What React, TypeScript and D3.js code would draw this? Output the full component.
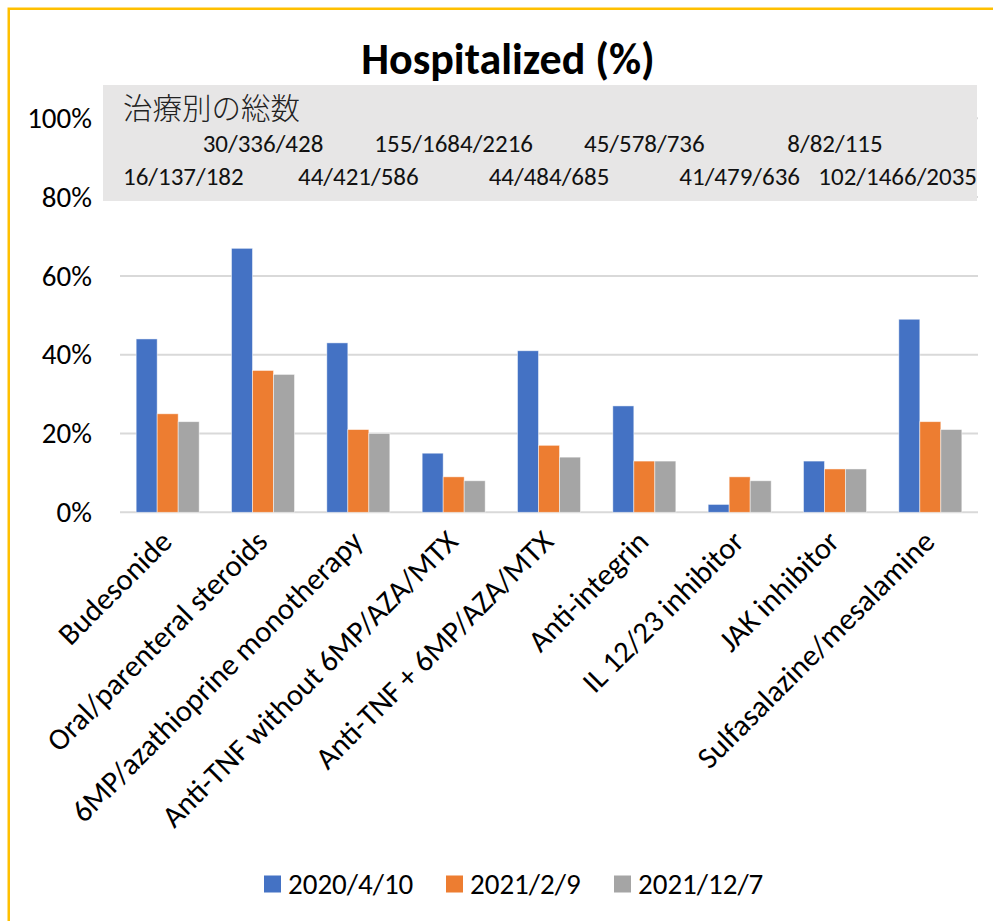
import React, { useEffect, useRef } from "react";
import * as d3 from "d3";

const categories = [
  "Budesonide",
  "Oral/parenteral steroids",
  "6MP/azathioprine monotherapy",
  "Anti-TNF without 6MP/AZA/MTX",
  "Anti-TNF + 6MP/AZA/MTX",
  "Anti-integrin",
  "IL 12/23 inhibitor",
  "JAK inhibitor",
  "Sulfasalazine/mesalamine",
];
const seriesNames = ["2020/4/10", "2021/2/9", "2021/12/7"];
const apr2020 = [44, 67, 43, 15, 41, 27, 2, 13, 49];
const feb2021 = [25, 36, 21, 9, 17, 13, 9, 11, 23];
const dec2021 = [23, 35, 20, 8, 14, 13, 8, 11, 21];
const totals = [
  "16/137/182",
  "30/336/428",
  "44/421/586",
  "155/1684/2216",
  "44/484/685",
  "45/578/736",
  "41/479/636",
  "8/82/115",
  "102/1466/2035",
];
const totalsTitle = "治療別の総数";
const yTicks = [0, 20, 40, 60, 80, 100];
const colors = ["#4472C4", "#ED7D31", "#A5A5A5"];

const FONT = "Carlito, Calibri, Lato, sans-serif";

export default function App() {
  const ref = useRef<SVGSVGElement>(null);

  useEffect(() => {
    const svg = d3.select(ref.current);
    svg.selectAll("*").remove();

    const left = 120, right = 978, top = 118.3, bottom = 512.3;
    const series = [apr2020, feb2021, dec2021];

    // outer frame (only top and left edges are visible)
    svg.append("rect")
      .attr("x", 8.75).attr("y", 8.75)
      .attr("width", 1200).attr("height", 1200)
      .attr("fill", "#fff")
      .attr("stroke", "#FFC000")
      .attr("stroke-width", 2.5);

    svg.append("text")
      .attr("x", 508).attr("y", 74)
      .attr("text-anchor", "middle")
      .attr("font-family", FONT)
      .attr("font-weight", "bold")
      .attr("font-size", 44)
      .text("Hospitalized (%)");

    const x = d3.scaleBand<string>()
      .domain(categories)
      .range([left, right])
      .paddingInner(0.339)
      .paddingOuter(0.1695);

    const xs = d3.scaleBand<number>()
      .domain(d3.range(series.length))
      .range([0, x.bandwidth()]);

    const y = d3.scaleLinear().domain([0, 100]).range([bottom, top]);

    // gridlines
    svg.append("g")
      .selectAll("line")
      .data(yTicks)
      .join("line")
      .attr("x1", left).attr("x2", right)
      .attr("y1", (d) => y(d)).attr("y2", (d) => y(d))
      .attr("stroke", "#D9D9D9")
      .attr("stroke-width", 2);

    // y axis labels
    const yAxis = d3.axisLeft(y)
      .tickValues(yTicks)
      .tickSize(0)
      .tickPadding(28)
      .tickFormat((d) => d + "%");
    const ya = svg.append("g")
      .attr("transform", "translate(" + left + ",0)")
      .call(yAxis);
    ya.select(".domain").remove();
    ya.selectAll("text")
      .attr("font-family", FONT)
      .attr("font-size", 29)
      .attr("fill", "#000");

    // bars
    const groups = svg.append("g")
      .selectAll("g")
      .data(categories)
      .join("g")
      .attr("transform", (c) => "translate(" + x(c) + ",0)");

    groups.selectAll("rect")
      .data((c, i) => series.map((s, k) => ({ k, v: s[i] })))
      .join("rect")
      .attr("x", (d) => xs(d.k)!)
      .attr("y", (d) => y(d.v))
      .attr("width", xs.bandwidth())
      .attr("height", (d) => bottom - y(d.v))
      .attr("fill", (d) => colors[d.k])
      .attr("stroke", "rgba(255,255,255,0.6)")
      .attr("stroke-width", 0.8);

    // totals box
    const boxL = 103, boxR = 977, boxT = 85, boxB = 201;
    svg.append("rect")
      .attr("x", boxL).attr("y", boxT)
      .attr("width", boxR - boxL).attr("height", boxB - boxT)
      .attr("fill", "#E7E6E6");

    svg.append("text")
      .attr("x", 123).attr("y", 119)
      .attr("font-family", "'Noto Sans CJK JP', sans-serif")
      .attr("font-weight", 300)
      .attr("font-size", 29.5)
      .attr("fill", "#222")
      .text(totalsTitle);

    svg.append("g")
      .selectAll("text")
      .data(totals)
      .join("text")
      .attr("font-family", FONT)
      .attr("font-size", 25)
      .attr("fill", "#111")
      .attr("y", (d, i) => (i % 2 === 1 ? 152 : 185))
      .text((d) => d)
      .each(function (d, i) {
        const w = (this as SVGTextElement).getComputedTextLength();
        let x0 = x(categories[i])! + x.bandwidth() / 2 - w / 2;
        x0 = Math.max(boxL + 20, Math.min(boxR - w, x0));
        d3.select(this).attr("x", x0);
      });

    // category labels
    svg.append("g")
      .selectAll("text")
      .data(categories)
      .join("text")
      .attr("transform", (c) =>
        "translate(" + (x(c)! + x.bandwidth() / 2 - 9) + "," + (bottom + 16) + ") rotate(-45)")
      .attr("text-anchor", "end")
      .attr("dy", "0.7em")
      .attr("font-family", FONT)
      .attr("font-size", 30.5)
      .attr("fill", "#000")
      .text((c) => c);

    // legend
    const lg = svg.append("g").attr("transform", "translate(0,884)");
    const legX = [264, 446, 614];
    seriesNames.forEach((name, k) => {
      lg.append("rect")
        .attr("x", legX[k]).attr("y", -8.5)
        .attr("width", 17).attr("height", 17)
        .attr("fill", colors[k]);
      lg.append("text")
        .attr("x", legX[k] + 24).attr("y", 0)
        .attr("dy", "0.35em")
        .attr("font-family", FONT)
        .attr("font-size", 29)
        .attr("fill", "#000")
        .text(name);
    });
  }, []);

  return (
    <svg
      ref={ref}
      width={993}
      height={921}
      style={{ position: "absolute", left: 0, top: 0, background: "#fff" }}
    />
  );
}
